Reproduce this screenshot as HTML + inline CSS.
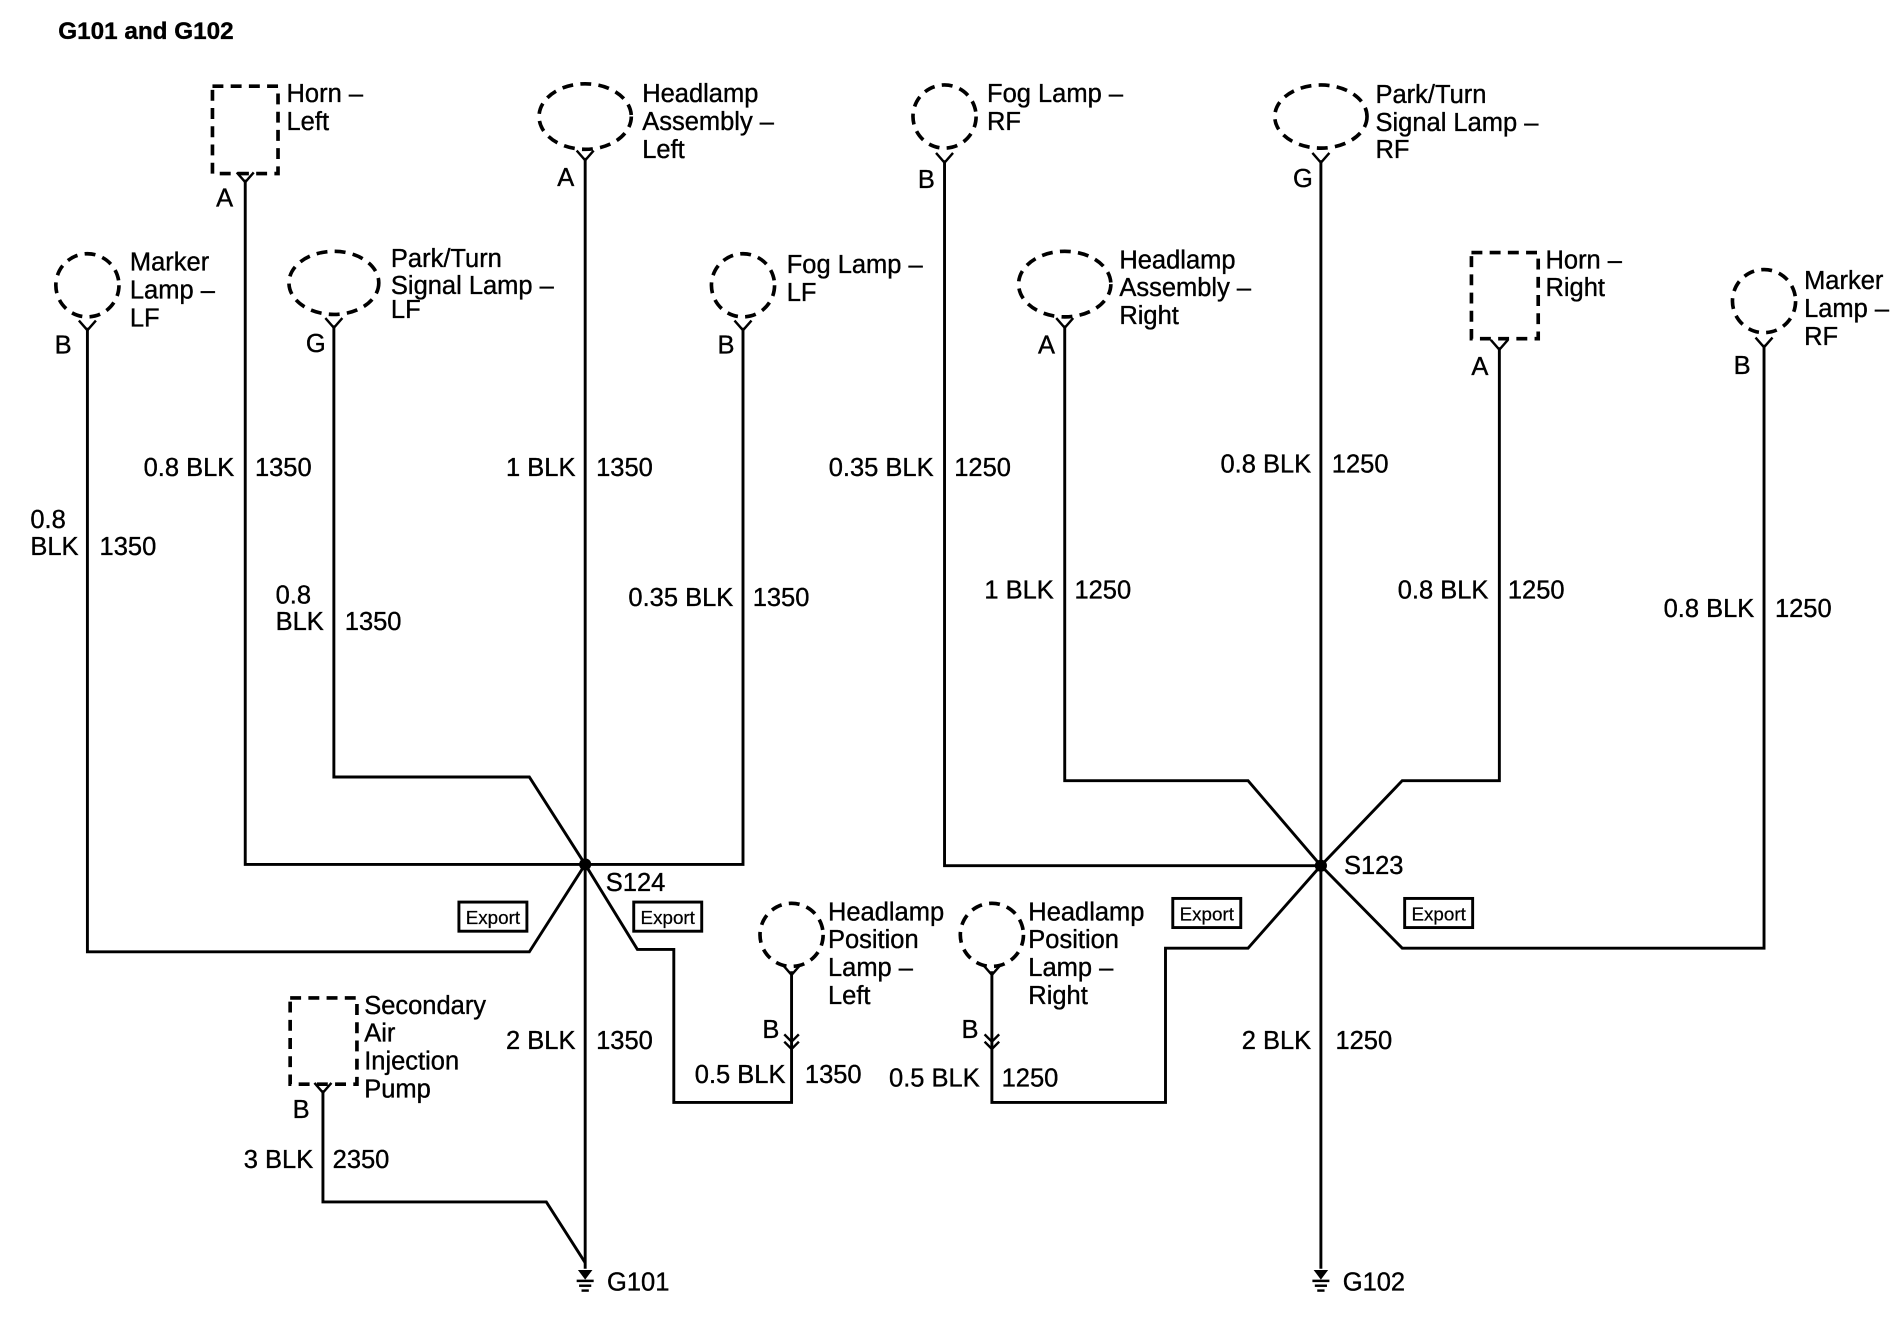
<!DOCTYPE html>
<html><head><meta charset="utf-8"><style>
html,body{margin:0;padding:0;background:#fff;}
svg{display:block;}
text{font-family:"Liberation Sans",Arial,sans-serif;font-size:21px;fill:#000;stroke:#000;stroke-width:0.3px;}
text.ex{font-size:15.5px;stroke-width:0.2px;}
</style></head><body>
<svg width="1900" height="1344" viewBox="0 0 1565 1107" preserveAspectRatio="none" xmlns="http://www.w3.org/2000/svg">
<rect width="1565" height="1107" fill="#fff"/>
<text x="48" y="32" font-weight="bold" style="font-size:20px">G101 and G102</text>
<g fill="none" stroke="#000" stroke-width="2.4">
<polyline points="202,148 202,712 482,712"/>
<polyline points="482,130 482,1045"/>
<polyline points="72,270 72,784 436,784 482,712"/>
<polyline points="275,268 275,640 436,640 482,712"/>
<polyline points="612,270 612,712 482,712"/>
<polyline points="482,712 525,782 555,782 555,908 652,908 652,800"/>
<polyline points="266,898 266,990 450,990 482,1040"/>
<polyline points="778,132 778,713 1088,713"/>
<polyline points="1088,132 1088,1045"/>
<polyline points="877,268 877,643 1028,643 1088,713"/>
<polyline points="1235,286 1235,643 1155,643 1088,713"/>
<polyline points="1453,284 1453,781 1155,781 1088,713"/>
<polyline points="1088,713 1028,781 960,781 960,908 817,908 817,800"/>
<g stroke-dasharray="9,6" stroke-width="3">
<rect x="175" y="71" width="54" height="72"/>
<rect x="1212" y="208" width="55" height="71"/>
<rect x="239" y="822" width="55" height="71"/>
<ellipse cx="482" cy="96" rx="38" ry="27"/>
<ellipse cx="275" cy="233" rx="37" ry="26"/>
<ellipse cx="1088" cy="96" rx="38" ry="26"/>
<ellipse cx="877" cy="234" rx="38" ry="27"/>
<circle cx="72" cy="235" r="26"/>
<circle cx="612" cy="235" r="26"/>
<circle cx="778" cy="96" r="26"/>
<circle cx="1453" cy="248" r="26"/>
<circle cx="652" cy="770" r="26"/>
<circle cx="817" cy="770" r="26"/>
</g>
<g stroke-width="2">
<polyline points="195,142 202,150 209,142"/>
<polyline points="475,124 482,132 489,124"/>
<polyline points="65,264 72,272 79,264"/>
<polyline points="268,262 275,270 282,262"/>
<polyline points="605,264 612,272 619,264"/>
<polyline points="259,892 266,900 273,892"/>
<polyline points="771,126 778,134 785,126"/>
<polyline points="1081,126 1088,134 1095,126"/>
<polyline points="870,262 877,270 884,262"/>
<polyline points="1228,280 1235,288 1242,280"/>
<polyline points="1446,278 1453,286 1460,278"/>
<polyline points="645,795 652,803 659,795"/>
<polyline points="810,795 817,803 824,795"/>
<polyline points="646,852 652,858 658,852"/><polyline points="646,858 652,864 658,858"/>
<polyline points="811,852 817,858 823,852"/><polyline points="811,858 817,864 823,858"/>
</g>
<rect x="378" y="743" width="56" height="24"/>
<rect x="522" y="743" width="56" height="24"/>
<rect x="966" y="740" width="56" height="24"/>
<rect x="1157" y="740" width="56" height="24"/>
<g stroke-width="2"><line x1="475" y1="1055" x2="489" y2="1055"/><line x1="477" y1="1059" x2="487" y2="1059"/><line x1="479" y1="1063" x2="485" y2="1063"/>
<line x1="1081" y1="1055" x2="1095" y2="1055"/><line x1="1083" y1="1059" x2="1093" y2="1059"/><line x1="1085" y1="1063" x2="1091" y2="1063"/></g>
</g>
<circle cx="482" cy="712" r="5" fill="#000"/>
<circle cx="1088" cy="713" r="5" fill="#000"/>
<path d="M476,1046 h12 l-6,8 z" fill="#000"/><path d="M1082,1046 h12 l-6,8 z" fill="#000"/>
<g text-anchor="middle">
<text class="ex" x="406" y="761">Export</text><text class="ex" x="550" y="761">Export</text>
<text class="ex" x="994" y="758">Export</text><text class="ex" x="1185" y="758">Export</text>
</g>
<text x="236" y="84">Horn –</text><text x="236" y="107">Left</text>
<text x="529" y="84">Headlamp</text><text x="529" y="107">Assembly –</text><text x="529" y="130">Left</text>
<text x="813" y="84">Fog Lamp –</text><text x="813" y="107">RF</text>
<text x="1133" y="85">Park/Turn</text><text x="1133" y="108">Signal Lamp –</text><text x="1133" y="130">RF</text>
<text x="107" y="223">Marker</text><text x="107" y="246">Lamp –</text><text x="107" y="269">LF</text>
<text x="322" y="220">Park/Turn</text><text x="322" y="242">Signal Lamp –</text><text x="322" y="262">LF</text>
<text x="648" y="225">Fog Lamp –</text><text x="648" y="248">LF</text>
<text x="922" y="221">Headlamp</text><text x="922" y="244">Assembly –</text><text x="922" y="267">Right</text>
<text x="1273" y="221">Horn –</text><text x="1273" y="244">Right</text>
<text x="1486" y="238">Marker</text><text x="1486" y="261">Lamp –</text><text x="1486" y="284">RF</text>
<text x="682" y="758">Headlamp</text><text x="682" y="781">Position</text><text x="682" y="804">Lamp –</text><text x="682" y="827">Left</text>
<text x="847" y="758">Headlamp</text><text x="847" y="781">Position</text><text x="847" y="804">Lamp –</text><text x="847" y="827">Right</text>
<text x="300" y="835">Secondary</text><text x="300" y="858">Air</text><text x="300" y="881">Injection</text><text x="300" y="904">Pump</text>
<text x="178" y="170">A</text><text x="459" y="153">A</text><text x="45" y="291">B</text><text x="252" y="290">G</text>
<text x="591" y="291">B</text><text x="756" y="155">B</text><text x="1065" y="154">G</text><text x="855" y="291">A</text>
<text x="1212" y="309">A</text><text x="1428" y="308">B</text><text x="628" y="855">B</text><text x="792" y="855">B</text>
<text x="241" y="921">B</text>
<g text-anchor="end">
<text x="193" y="392">0.8 BLK</text><text x="474" y="392">1 BLK</text><text x="604" y="499">0.35 BLK</text>
<text x="769" y="392">0.35 BLK</text><text x="1080" y="389">0.8 BLK</text><text x="868" y="493">1 BLK</text>
<text x="1226" y="493">0.8 BLK</text><text x="1445" y="508">0.8 BLK</text><text x="474" y="864">2 BLK</text>
<text x="1080" y="864">2 BLK</text><text x="647" y="892">0.5 BLK</text><text x="807" y="895">0.5 BLK</text>
<text x="258" y="962">3 BLK</text>
</g>
<text x="25" y="435">0.8</text><text x="25" y="457">BLK</text><text x="82" y="457">1350</text>
<text x="227" y="497">0.8</text><text x="227" y="519">BLK</text><text x="284" y="519">1350</text>
<text x="210" y="392">1350</text><text x="491" y="392">1350</text><text x="620" y="499">1350</text>
<text x="786" y="392">1250</text><text x="1097" y="389">1250</text><text x="885" y="493">1250</text>
<text x="1242" y="493">1250</text><text x="1462" y="508">1250</text><text x="491" y="864">1350</text>
<text x="1100" y="864">1250</text><text x="663" y="892">1350</text><text x="825" y="895">1250</text>
<text x="274" y="962">2350</text>
<text x="499" y="734">S124</text><text x="1107" y="720">S123</text>
<text x="500" y="1063">G101</text><text x="1106" y="1063">G102</text>
</svg>
</body></html>
